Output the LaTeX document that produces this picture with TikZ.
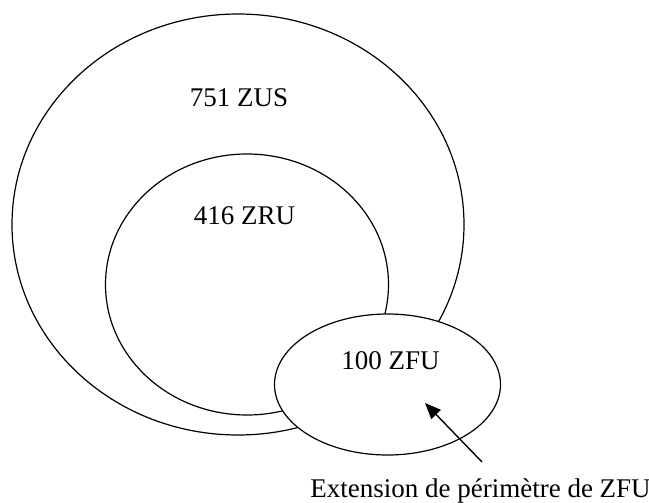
\documentclass[tikz,border=0pt,12pt]{standalone}
\usepackage{fontspec}
\setmainfont{Liberation Serif}
\usetikzlibrary{arrows.meta, shapes.geometric}

\begin{document}
\begin{tikzpicture}[
    x=0.5pt, y=-0.5pt,
    every node/.style={font=\fontsize{13.5}{16}\selectfont},
    zone/.style={draw, ellipse, line width=0.6pt, inner sep=0pt, outer sep=0pt},
    label/.style={inner sep=0pt},
    arrow/.style={-{Triangle[length=8pt, width=6.5pt]}, line width=0.7pt}
]
\useasboundingbox (0,0) rectangle (649,503);

% Zones
\node[zone, minimum width=226pt, minimum height=210.5pt] (zus) at (238,224.5) {};
\node[zone, minimum width=141.5pt, minimum height=130.5pt] (zru) at (247,284.5) {};
\node[zone, fill=white, minimum width=113pt, minimum height=70.5pt] (zfu) at (387.5,384.5) {};

% Labels
\node[label] (zuslabel) at (239,98) {751 ZUS};
\node[label] (zrulabel) at (244.5,216) {416 ZRU};
\node[label] (zfulabel) at (390.5,361) {100 ZFU};
\node[label] (ext) at (480.5,491) {Extension de périmètre de ZFU};

% Arrow
\coordinate (extfrom) at (482,462);
\coordinate (extto) at (425,403);
\draw[arrow] (extfrom) -- (extto);

\end{tikzpicture}
\end{document}
